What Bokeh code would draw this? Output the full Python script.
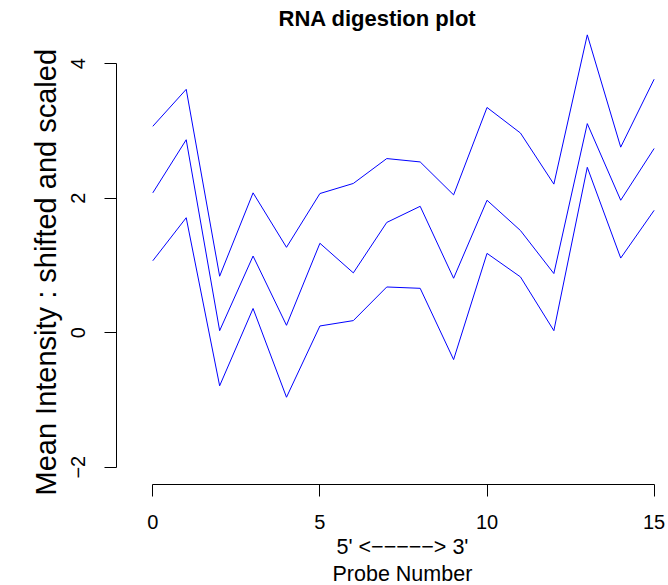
from bokeh.plotting import figure
from bokeh.models import Range1d, FixedTicker, Title
from bokeh.embed import file_html
from bokeh.resources import INLINE

# ---- data ----
probe = list(range(16))
sample_low = [1.07, 1.71, -0.79, 0.36, -0.96, 0.10, 0.18, 0.68, 0.66, -0.40, 1.18, 0.83, 0.03, 2.46, 1.11, 1.82]
sample_mid = [2.08, 2.87, 0.03, 1.14, 0.11, 1.33, 0.89, 1.64, 1.88, 0.81, 1.97, 1.52, 0.88, 3.11, 1.97, 2.74]
sample_high = [3.07, 3.62, 0.84, 2.08, 1.27, 2.07, 2.22, 2.59, 2.54, 2.05, 3.35, 2.97, 2.21, 4.43, 2.76, 3.77]
x_ticks = [0, 5, 10, 15]
y_ticks = [-2, 0, 2, 4]

title_text = "RNA digestion plot"
xlab_line1 = "5' <\u2212\u2212\u2212\u2212\u2212> 3'"
xlab_line2 = "Probe Number"
ylab_text = "Mean Intensity : shifted and scaled"

FONT = "Liberation Sans"

p = figure(width=668, height=585, output_backend="svg", toolbar_location=None,
           x_range=Range1d(-1.086, 15.43), y_range=Range1d(-2.258, 4.495),
           min_border_left=116, min_border_right=0, min_border_top=30,
           min_border_bottom=101)
p.title.text = title_text
p.title.align = "left"
p.title.offset = 162
p.title.text_font = FONT
p.title.text_font_size = "22px"
p.title.text_font_style = "bold"
p.title.text_color = "black"
p.title.standoff = 0
p.outline_line_color = None
p.grid.visible = False
p.background_fill_color = "white"
p.border_fill_color = "white"

for ax, ticks in ((p.xaxis, x_ticks), (p.yaxis, y_ticks)):
    ax.ticker = FixedTicker(ticks=ticks)
    ax.bounds = (min(ticks), max(ticks))
    ax.axis_line_color = "black"
    ax.axis_line_width = 1
    ax.major_tick_line_color = "black"
    ax.major_tick_out = 12
    ax.major_tick_in = 0
    ax.minor_tick_line_color = None
    ax.major_label_text_font = FONT
    ax.major_label_text_font_size = "20px"
    ax.major_label_text_color = "black"

p.xaxis.major_label_standoff = 18
p.yaxis.major_label_standoff = 19
p.yaxis.major_label_orientation = "vertical"

common = dict(text_font=FONT, text_font_style="normal", text_color="black", align="left")
p.add_layout(Title(text=xlab_line1, text_font_size="21.5px", offset=220, standoff=2, **common), "below")
p.add_layout(Title(text=xlab_line2, text_font_size="21.5px", offset=216, standoff=0, **common), "below")
p.add_layout(Title(text=ylab_text, text_font_size="29px", offset=-11, standoff=14, **common), "left")

for s in (sample_low, sample_mid, sample_high):
    p.line(probe, s, line_color="#0000FF", line_width=1)

open("out.html", "w").write(file_html(p, INLINE))
